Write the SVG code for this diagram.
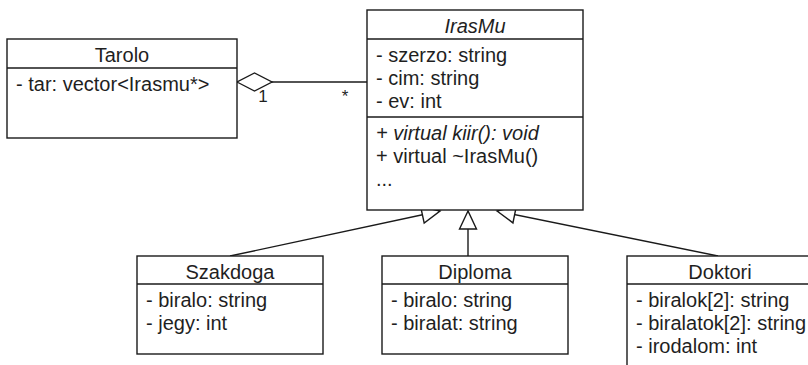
<svg xmlns="http://www.w3.org/2000/svg" width="808" height="365" viewBox="0 0 808 365">
<defs>
<style>
text{font-family:"Liberation Sans",Arial,sans-serif;font-size:20px;fill:#1f1f1f}
.box{fill:#fff;stroke:#1a1a1a;stroke-width:1.4}
.sep{stroke:#1a1a1a;stroke-width:1.4}
.c{text-anchor:middle}
.i{font-style:italic}
.mult{font-size:17px}
.edge{fill:none;stroke:#1a1a1a;stroke-width:1.4}
</style>
<marker id="gen" markerUnits="userSpaceOnUse" viewBox="-20 -11 22 22" markerWidth="22" markerHeight="22" refX="0" refY="0" orient="auto">
<path d="M0,0 L-18,-8.5 L-18,8.5 Z" fill="#fff" stroke="#1a1a1a" stroke-width="1.4"/>
</marker>
<marker id="agg" markerUnits="userSpaceOnUse" viewBox="-37 -11 39 22" markerWidth="39" markerHeight="22" refX="0" refY="0" orient="auto">
<path d="M0,0 L-17.5,-9 L-35,0 L-17.5,9 Z" fill="#fff" stroke="#1a1a1a" stroke-width="1.4"/>
</marker>
</defs>
<rect width="808" height="365" fill="#fff"/>
<g id="connectors">
<path class="edge" d="M367,82 L237,82" marker-end="url(#agg)"/>
<text class="mult c" x="263" y="102">1</text>
<text class="mult c" x="345" y="102">*</text>
<path class="edge" d="M230,256 L440,211" marker-end="url(#gen)"/>
<path class="edge" d="M468,256 L468,211" marker-end="url(#gen)"/>
<path class="edge" d="M718,256 L497,211" marker-end="url(#gen)"/>
</g>
<g id="Tarolo">
<rect class="box" x="7" y="39" width="230" height="99"/>
<line class="sep" x1="7" y1="68" x2="237" y2="68"/>
<text class="c" x="122" y="62">Tarolo</text>
<text x="16" y="91">- tar: vector&lt;Irasmu*&gt;</text>
</g>
<g id="IrasMu">
<rect class="box" x="367" y="10" width="216" height="200"/>
<line class="sep" x1="367" y1="39" x2="583" y2="39"/>
<line class="sep" x1="367" y1="117" x2="583" y2="117"/>
<text class="c i" x="475" y="33">IrasMu</text>
<text x="376" y="62">- szerzo: string</text>
<text x="376" y="85">- cim: string</text>
<text x="376" y="108">- ev: int</text>
<text class="i" x="376" y="140">+ virtual kiir(): void</text>
<text x="376" y="163">+ virtual ~IrasMu()</text>
<text x="376" y="186">...</text>
</g>
<g id="Szakdoga">
<rect class="box" x="137" y="256" width="186" height="98"/>
<line class="sep" x1="137" y1="284" x2="323" y2="284"/>
<text class="c" x="230" y="279">Szakdoga</text>
<text x="146" y="307">- biralo: string</text>
<text x="146" y="330">- jegy: int</text>
</g>
<g id="Diploma">
<rect class="box" x="382" y="256" width="186" height="98"/>
<line class="sep" x1="382" y1="284" x2="568" y2="284"/>
<text class="c" x="475" y="279">Diploma</text>
<text x="391" y="307">- biralo: string</text>
<text x="391" y="330">- biralat: string</text>
</g>
<g id="Doktori">
<rect class="box" x="627" y="256" width="186" height="120"/>
<line class="sep" x1="627" y1="284" x2="813" y2="284"/>
<text class="c" x="720" y="279">Doktori</text>
<text x="636" y="307">- biralok[2]: string</text>
<text x="636" y="330">- biralatok[2]: string</text>
<text x="636" y="353">- irodalom: int</text>
</g>
</svg>
